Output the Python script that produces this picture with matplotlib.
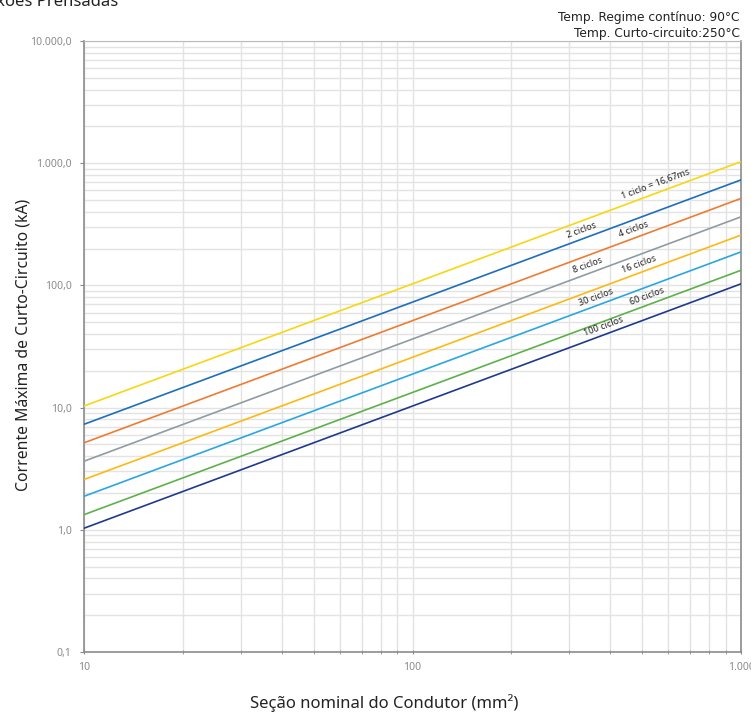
import matplotlib
matplotlib.use("Agg")
import matplotlib.pyplot as plt
from matplotlib.ticker import FixedLocator, NullFormatter, LogLocator
import numpy as np

plt.rcParams['font.family'] = ['Noto Sans', 'DejaVu Sans']

# Data
secao = [10, 1000]  # mm²
series_labels = ["1 ciclo = 16,67ms", "2 ciclos", "4 ciclos", "8 ciclos",
                 "16 ciclos", "30 ciclos", "60 ciclos", "100 ciclos"]
corrente_10 = [10.3, 7.3, 5.15, 3.64, 2.58, 1.88, 1.33, 1.03]
corrente_1000 = [1030, 730, 515, 364, 258, 188, 133, 103]
colors = ["#F7D711", "#1E6EBC", "#EF7B32", "#8E9CA3", "#FDB913", "#2AA7DF", "#5DB14B", "#1F3A8C"]
label_x = [555, 330, 475, 345, 495, 365, 525, 385]

y_ticks = [0.1, 1, 10, 100, 1000, 10000]
y_ticklabels = ["0,1", "1,0", "10,0", "100,0", "1.000,0", "10.000,0"]
x_ticks = [10, 100, 1000]
x_ticklabels = ["10", "100", "1.000"]

fig = plt.figure(figsize=(7.51, 7.16), dpi=100)
ax = fig.add_axes([84/751, 1-652/716, (741-84)/751, (652-41)/716])
ax.set_xscale('log')
ax.set_yscale('log')
ax.set_xlim(10, 1000)
ax.set_ylim(0.1, 10000)

for i, lab in enumerate(series_labels):
    ax.plot(secao, [corrente_10[i], corrente_1000[i]], color=colors[i], lw=1.2, zorder=3)
    xl = label_x[i]
    k = corrente_10[i] / 10
    ax.annotate(lab, (xl, k * xl), xytext=(0, 3), textcoords='offset points',
                ha='center', va='bottom', rotation=20.4, rotation_mode='anchor',
                fontsize=6.5, color='#222222', zorder=4)

ax.xaxis.set_major_locator(FixedLocator(x_ticks))
ax.set_xticklabels(x_ticklabels)
ax.xaxis.set_minor_locator(LogLocator(base=10, subs=np.arange(2, 10)))
ax.xaxis.set_minor_formatter(NullFormatter())
ax.yaxis.set_major_locator(FixedLocator(y_ticks))
ax.set_yticklabels(y_ticklabels)
ax.yaxis.set_minor_locator(LogLocator(base=10, subs=np.arange(2, 10)))
ax.yaxis.set_minor_formatter(NullFormatter())

ax.grid(True, which='both', color='#e3e3e3', lw=1.0, zorder=0)
ax.set_axisbelow(True)
ax.tick_params(axis='both', which='both', colors='#888888', labelcolor='#8a8a8a', labelsize=7.5)
ax.tick_params(axis='x', which='both', length=3, direction='inout', pad=6)
ax.tick_params(axis='y', which='major', length=3, direction='out', pad=6)
ax.tick_params(axis='y', which='minor', length=0)
for s in ['left', 'bottom', 'right']:
    ax.spines[s].set_color('#8c8c8c')
    ax.spines[s].set_linewidth(1.2)
ax.spines['top'].set_color('#bbbbbb')

fig.text(24/751, 1-345/716, "Corrente Máxima de Curto-Circuito (kA)", fontsize=11.3,
         color='#222222', ha='center', va='center', rotation=90)
fig.text(384/751, 1-703/716, "Seção nominal do Condutor (mm²)", fontsize=12,
         color='#222222', ha='center', va='center')

fig.text(118/751, 1-2/716, "Conexões Prensadas", fontsize=12, color='#222222', ha='right', va='center')
line1 = "Temp. Regime contínuo: 90°C"
line2 = "Temp. Curto-circuito:250°C"
fig.text(740/751, 1-17/716, line1, fontsize=8.8,
         family=['Liberation Sans Narrow', 'DejaVu Sans'], color='#222222', ha='right', va='center')
fig.text(740/751, 1-33/716, line2, fontsize=8.8,
         family=['Liberation Sans Narrow', 'DejaVu Sans'], color='#222222', ha='right', va='center')

fig.savefig("out.png", dpi=100)
